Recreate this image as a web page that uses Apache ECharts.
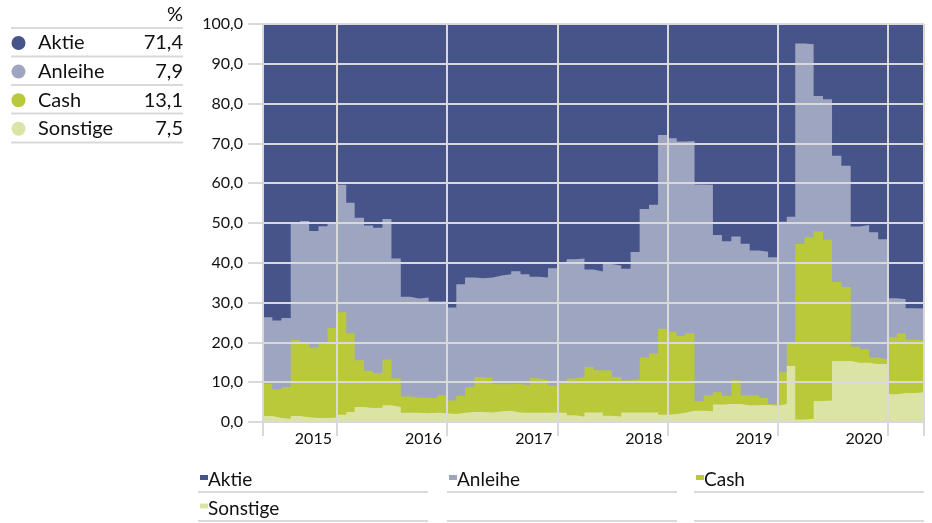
<!DOCTYPE html>
<html><head><meta charset="utf-8">
<script src="https://cdn.jsdelivr.net/npm/echarts@6/dist/echarts.min.js"></script>
<style>html,body{margin:0;padding:0;background:#fff}#c{width:932px;height:523px}</style>
</head><body><div id="c"></div>
<script>
// Monthly periods (first day of each month), May 2014 – Apr 2020
const months = [
  '2014-05','2014-06','2014-07','2014-08','2014-09','2014-10','2014-11','2014-12',
  '2015-01','2015-02','2015-03','2015-04','2015-05','2015-06','2015-07','2015-08','2015-09','2015-10','2015-11','2015-12',
  '2016-01','2016-02','2016-03','2016-04','2016-05','2016-06','2016-07','2016-08','2016-09','2016-10','2016-11','2016-12',
  '2017-01','2017-02','2017-03','2017-04','2017-05','2017-06','2017-07','2017-08','2017-09','2017-10','2017-11','2017-12',
  '2018-01','2018-02','2018-03','2018-04','2018-05','2018-06','2018-07','2018-08','2018-09','2018-10','2018-11','2018-12',
  '2019-01','2019-02','2019-03','2019-04','2019-05','2019-06','2019-07','2019-08','2019-09','2019-10','2019-11','2019-12',
  '2020-01','2020-02','2020-03','2020-04'
];
const periodEnd = '2020-05';

const aktie = [
  73.7,74.5,73.9,50.2,49.5,52.0,50.8,49.8,
  40.4,44.9,48.7,50.6,51.2,49.0,58.9,68.5,69.0,68.7,69.7,69.7,
  71.2,65.4,63.7,63.9,63.7,63.2,62.9,62.1,62.9,63.5,63.7,61.4,
  60.2,59.1,58.9,61.7,62.2,60.3,60.7,61.5,57.3,46.5,45.4,27.9,
  28.7,29.5,29.4,40.3,40.4,53.0,54.6,53.4,55.2,56.9,57.2,58.6,
  49.7,48.4,4.9,5.1,18.1,18.9,33.1,35.6,50.9,50.5,52.3,54.1,
  68.9,69.1,71.4,71.4
];
const anleihe = [
  16.7,17.3,17.3,29.2,30.8,29.3,29.6,26.6,
  32.0,32.8,35.8,36.5,36.5,35.3,30.1,25.1,24.9,25.2,24.3,23.6,
  23.4,28.0,27.5,24.8,25.3,27.3,27.6,28.3,27.9,25.5,25.8,29.4,
  29.5,30.0,29.8,24.5,24.8,26.7,28.0,28.0,31.9,37.3,37.4,48.7,
  48.6,48.9,48.3,54.4,52.9,39.5,38.8,36.1,38.1,36.4,36.8,36.9,
  37.8,31.9,50.4,48.5,34.0,35.3,31.7,30.5,30.1,31.2,31.5,30.2,
  9.8,8.6,7.9,7.9
];
const cash = [
  8.1,7.2,8.0,19.1,18.5,17.7,18.6,22.5,
  25.8,19.8,11.7,9.4,8.7,11.5,7.2,4.1,3.8,3.9,3.7,4.5,
  3.4,4.3,6.3,8.8,8.6,6.8,6.7,7.2,6.9,8.7,8.2,6.8,
  8.0,9.2,9.9,11.4,10.6,11.4,9.9,8.1,8.4,13.8,14.8,21.6,
  20.7,19.3,19.5,2.5,4.0,3.1,2.1,6.0,2.5,2.5,1.7,0.4,
  8.0,5.6,44.1,45.6,42.6,40.4,19.9,18.6,4.1,3.4,1.6,1.1,
  14.3,15.0,13.4,13.1
];
const sonstige = [
  1.5,1.0,0.8,1.5,1.2,1.0,1.0,1.1,
  1.8,2.5,3.8,3.5,3.6,4.2,3.8,2.3,2.3,2.2,2.3,2.2,
  2.0,2.3,2.5,2.5,2.4,2.7,2.8,2.4,2.3,2.3,2.3,2.4,
  2.3,1.7,1.4,2.4,2.4,1.6,1.4,2.4,2.4,2.4,2.4,1.8,
  2.0,2.3,2.8,2.8,2.7,4.4,4.5,4.5,4.2,4.2,4.3,4.1,
  4.5,14.1,0.6,0.8,5.3,5.4,15.3,15.3,14.9,14.9,14.6,14.6,
  7.0,7.3,7.3,7.5
];
const names = ['Aktie','Anleihe','Cash','Sonstige'];
const yTicks = [0,10,20,30,40,50,60,70,80,90,100];

const colors = {Aktie:'#46548a', Anleihe:'#9ea5c0', Cash:'#b9c93a', Sonstige:'#dbe4a4'};
const grid = '#d9d9d9';
const FF = 'Lato';
const seriesData = {Aktie:aktie, Anleihe:anleihe, Cash:cash, Sonstige:sonstige};

// stacking order bottom -> top
const stackOrder = ['Sonstige','Cash','Anleihe','Aktie'];
const cumTop = {};
let run = months.map(()=>0);
stackOrder.forEach(n=>{
  run = run.map((v,i)=>Math.round((v + seriesData[n][i])*100)/100);
  cumTop[n] = run.slice();
});

function mk(name){
  const arr = cumTop[name];
  const d = months.map((m,i)=>[m+'-01', arr[i]]);
  d.push([periodEnd+'-01', arr[arr.length-1]]);
  return {
    name, type:'line', step:'end', symbol:'none', showSymbol:false,
    lineStyle:{width:0}, areaStyle:{color:colors[name], opacity:1, origin:'start'}, itemStyle:{color:colors[name]},
    data:d, silent:true, animation:false, z:2
  };
}

const fmt = v => v.toFixed(1).replace('.', ',');

// left summary table
const graphics = [];
const tL = 11, tR = 183;
graphics.push({type:'text', x: tR, y: 15, style:{text:'%', font:`20px ${FF}`, fill:'#111', align:'right', verticalAlign:'middle'}});
const lineYs = [28, 56.5, 85, 113.5, 142.5];
lineYs.forEach(y=>graphics.push({type:'line', shape:{x1:tL,y1:y,x2:tR,y2:y}, style:{stroke:grid, lineWidth:2}}));
names.forEach((n,i)=>{
  const cy = 43 + i*28.6;
  const arr = seriesData[n];
  graphics.push({type:'circle', shape:{cx:18.5, cy, r:7}, style:{fill:colors[n]}});
  graphics.push({type:'text', x:38, y:cy, style:{text:n, font:`20px ${FF}`, fill:'#111', verticalAlign:'middle'}});
  graphics.push({type:'text', x:tR, y:cy, style:{text:fmt(arr[arr.length-1]), font:`20px ${FF}`, fill:'#111', align:'right', verticalAlign:'middle'}});
});
// bottom legend (3 columns)
const colX = [198, 447, 694], colW = 230;
names.forEach((n,i)=>{
  const col = i % 3, row = Math.floor(i/3);
  const x = colX[col], cy = 480 + row*28.5;
  graphics.push({type:'rect', shape:{x:x+2, y:cy-5, width:8, height:5}, style:{fill:colors[n]}});
  graphics.push({type:'text', x:x+10, y:cy, style:{text:n, font:`19px ${FF}`, fill:'#111', verticalAlign:'middle'}});
});
[492, 521].forEach(y=>colX.forEach(x=>graphics.push({type:'line', shape:{x1:x,y1:y,x2:x+colW,y2:y}, style:{stroke:grid, lineWidth:2}})));

const chart = echarts.init(document.getElementById('c'));
chart.setOption({
  animation:false,
  backgroundColor:'#fff',
  grid:{left:263, right:8, top:24, bottom:101, containLabel:false},
  xAxis:{
    type:'time', min:months[0]+'-01', max:periodEnd+'-01', z:5, splitNumber:6,
    axisLine:{show:false},
    axisTick:{show:true, length:14, lineStyle:{color:grid, width:2}},
    splitLine:{show:true, lineStyle:{color:grid, width:2}},
    axisLabel:{
      show:true, margin:9, fontFamily:FF, fontSize:16, color:'#111', padding:[0,47,0,0],
      hideOverlap:false, showMinLabel:true, showMaxLabel:true,
      formatter:(v)=>{const d=new Date(v); return (d.getMonth()===0 && d.getDate()===1)? String(d.getFullYear()) : '';}
    }
  },
  yAxis:{
    type:'value', min:yTicks[0], max:yTicks[yTicks.length-1], interval:yTicks[1]-yTicks[0], z:5,
    axisLine:{show:false},
    axisTick:{show:true, length:15, lineStyle:{color:grid, width:2}},
    splitLine:{show:true, lineStyle:{color:grid, width:2}},
    axisLabel:{margin:20, fontFamily:FF, fontSize:16, color:'#111', formatter:fmt}
  },
  series:['Aktie','Anleihe','Cash','Sonstige'].map(mk),
  graphic:graphics
});
</script></body></html>
